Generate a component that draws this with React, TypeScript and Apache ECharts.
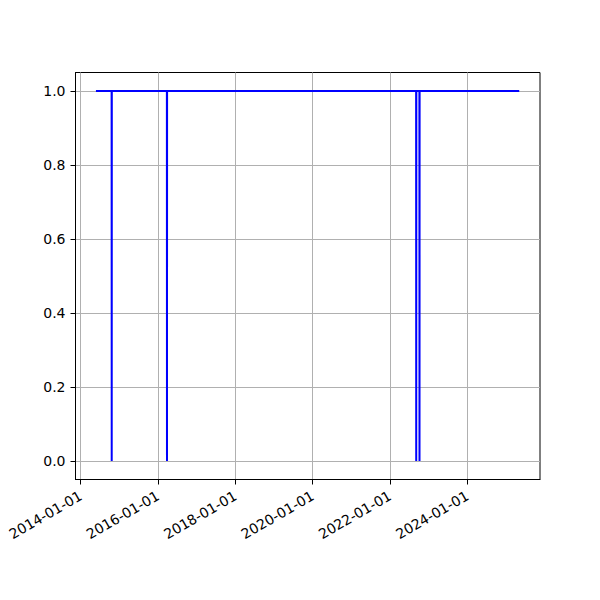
import React, { useEffect, useRef } from "react";
import * as echarts from "echarts";

const dates = [
  "2014-05-25",
  "2014-10-20",
  "2014-10-21",
  "2014-10-22",
  "2016-03-25",
  "2016-03-26",
  "2016-03-27",
  "2022-09-04",
  "2022-09-05",
  "2022-09-06",
  "2022-10-05",
  "2022-10-06",
  "2022-10-07",
  "2025-05-05",
];
const values = [1, 1, 0, 1, 1, 0, 1, 1, 0, 1, 1, 0, 1, 1];
const xTickLabels = [
  "2014-01-01",
  "2016-01-01",
  "2018-01-01",
  "2020-01-01",
  "2022-01-01",
  "2024-01-01",
];
const yTicks = [0, 0.2, 0.4, 0.6, 0.8, 1.0];
const xMin = "2013-11-13";
const xMax = "2025-11-17";

const ts = (s: string) => Date.parse(s + "T00:00:00Z");

export default function App() {
  const ref = useRef<HTMLDivElement>(null);
  useEffect(() => {
    if (!ref.current) return;
    const chart = echarts.init(ref.current, null, { renderer: "svg" });
    const xTicks = xTickLabels.map(ts);
    const font = "DejaVu Sans";
    chart.setOption({
      animation: false,
      grid: {
        left: 75.5,
        right: 60,
        top: 72.5,
        bottom: 120.5,
        show: true,
        borderColor: "#000",
        borderWidth: 1,
        backgroundColor: "transparent",
      },
      xAxis: {
        type: "value",
        min: ts(xMin),
        max: ts(xMax),
        axisLine: { show: true, onZero: false, lineStyle: { color: "#000", width: 1 } },
        axisTick: {
          show: true,
          length: 5,
          inside: false,
          customValues: xTicks,
          lineStyle: { color: "#000" },
        },
        axisLabel: {
          customValues: xTicks,
          rotate: 30,
          fontSize: 14,
          fontFamily: font,
          color: "#000",
          margin: 15,
          formatter: (v: number) => {
            const d = new Date(v);
            const y = d.getUTCFullYear();
            const m = String(d.getUTCMonth() + 1).padStart(2, "0");
            const dd = String(d.getUTCDate()).padStart(2, "0");
            return `${y}-${m}-${dd}`;
          },
        },
        splitLine: {
          show: true,
          customValues: xTicks,
          lineStyle: { color: "#b0b0b0", width: 1 },
        },
      },
      yAxis: {
        type: "value",
        min: -0.05,
        max: 1.05,
        axisLine: { show: true, onZero: false, lineStyle: { color: "#000", width: 1 } },
        axisTick: {
          show: true,
          length: 5,
          customValues: yTicks,
          lineStyle: { color: "#000" },
        },
        axisLabel: {
          customValues: yTicks,
          fontSize: 14,
          fontFamily: font,
          color: "#000",
          margin: 10,
          formatter: (v: number) => v.toFixed(1),
        },
        splitLine: {
          show: true,
          customValues: yTicks,
          lineStyle: { color: "#b0b0b0", width: 1 },
        },
      },
      series: [
        {
          type: "line",
          data: dates.map((d, i) => [ts(d), values[i]]),
          showSymbol: false,
          symbol: "none",
          lineStyle: { color: "#0000ff", width: 2 },
          itemStyle: { color: "#0000ff" },
        },
      ],
    });
    return () => chart.dispose();
  }, []);
  return (
    <div
      ref={ref}
      style={{ position: "absolute", left: 0, top: 0, width: 600, height: 600 }}
    />
  );
}
